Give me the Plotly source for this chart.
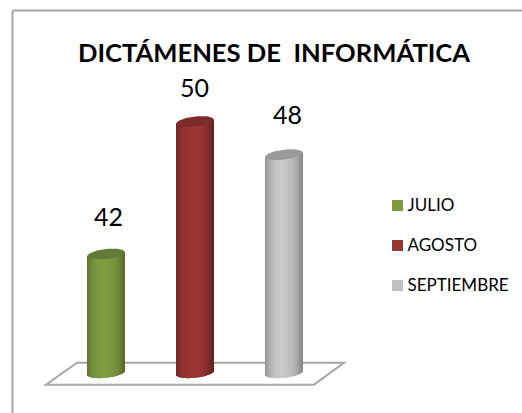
import numpy as np
import plotly.graph_objects as go

months = ["JULIO", "AGOSTO", "SEPTIEMBRE"]
values = [42, 50, 48]
light_colors = [(128, 157, 64), (156, 54, 54), (201, 201, 201)]
dark_colors = [(88, 110, 44), (104, 34, 34), (138, 138, 138)]
cap_colors = ["#637c35", "#7d2a2a", "#9a9a9a"]
swatch_colors = ["#7f9a3e", "#953735", "#bfbfbf"]

W, H = 522, 413
PX_X = 89.0      # px between categories
X0_PX = 106.0    # px of first category
PX_Y = 16.56     # px per value unit
REF_V, REF_PX = 42.0, 254.0
FLOOR_V = 34.83
HALF_W = 18.7    # px
CAP_B = 5.0      # px
TILT = 0.11

x_range = [(0 - X0_PX) / PX_X, (W - X0_PX) / PX_X]
y_range = [REF_V - (H - REF_PX) / PX_Y, REF_V + REF_PX / PX_Y]

fig = go.Figure()
strip_px = np.arange(-HALF_W + 0.5, HALF_W, 1.0)


def shade(t, lo, hi):
    # t in -1..1 across the cylinder
    k = np.clip(1 - (np.abs(t + 0.05) / 1.0) ** 2.6, 0, 1)
    if t > 0:
        k *= 0.93
    c = [lo[j] + (hi[j] - lo[j]) * k for j in range(3)]
    return "rgb(%d,%d,%d)" % tuple(int(v) for v in c)


for i, (name, v) in enumerate(zip(months, values)):
    t = strip_px / HALF_W
    arc = CAP_B * np.sqrt(np.clip(1 - t ** 2, 0, 1))
    skew = TILT * strip_px
    base = FLOOR_V + (skew - arc) / PX_Y
    top = v + skew / PX_Y
    fig.add_trace(go.Bar(
        x=i + strip_px / PX_X, y=top - base, base=base,
        width=[1.35 / PX_X] * len(strip_px),
        marker=dict(color=[shade(a, dark_colors[i], light_colors[i]) for a in t], line_width=0),
        showlegend=False, hoverinfo="skip",
    ))
    th = np.linspace(0, 2 * np.pi, 80)
    ex = HALF_W * np.cos(th)
    ey = CAP_B * np.sin(th) + TILT * ex
    fig.add_trace(go.Scatter(
        x=i + ex / PX_X, y=v + ey / PX_Y, mode="lines", fill="toself",
        fillcolor=cap_colors[i], line=dict(width=0, color=cap_colors[i]),
        showlegend=False, hoverinfo="skip",
    ))

# key: square swatch with its label beside it
key_x = (397.5 - X0_PX) / PX_X
key_text_x = (407.5 - X0_PX) / PX_X
key_rows_px = [205.5, 245.5, 285.5]
for i, name in enumerate(months):
    row = REF_V - (key_rows_px[i] - REF_PX) / PX_Y
    fig.add_trace(go.Scatter(
        x=[key_x], y=[row], name=name, mode="markers",
        marker=dict(symbol="square", size=11, color=swatch_colors[i], line_width=0),
        showlegend=False, hoverinfo="skip",
    ))
    fig.add_trace(go.Scatter(
        x=[key_text_x], y=[row - 1.2 / PX_Y], name=name, mode="text",
        text=[name], textposition="middle right",
        textfont=dict(family="Lato", size=17, color="#000000"),
        showlegend=False, hoverinfo="skip",
    ))

label_shift = [(2, 38), (-1, 35), (3, 41)]
for i, v in enumerate(values):
    fig.add_annotation(
        x=i, y=v, text=str(v), showarrow=False,
        xshift=label_shift[i][0], yshift=label_shift[i][1],
        font=dict(family="Lato", size=25, color="#000000"),
    )

# floor parallelogram
fx = [(46 - X0_PX) / PX_X, (314 - X0_PX) / PX_X, (344 - X0_PX) / PX_X, (77 - X0_PX) / PX_X]
fy = [FLOOR_V - 0.72, FLOOR_V - 0.72, FLOOR_V + 0.60, FLOOR_V + 0.60]
path = "M " + " L ".join(f"{a},{b}" for a, b in zip(fx, fy)) + " Z"
fig.add_shape(type="path", path=path, xref="x", yref="y", layer="below",
              fillcolor="#ffffff", line=dict(color="#a6a6a6", width=2))

# chart frame (left and top edges only)
frame = "#a6a6a6"
fig.add_shape(type="line", xref="paper", yref="paper", x0=12.5 / W, x1=1, y0=1 - 10.5 / H, y1=1 - 10.5 / H,
              line=dict(color=frame, width=2), layer="below")
fig.add_shape(type="line", xref="paper", yref="paper", x0=12.5 / W, x1=12.5 / W, y0=0, y1=1 - 10.5 / H,
              line=dict(color=frame, width=2), layer="below")

fig.update_layout(
    width=W, height=H, margin=dict(l=0, r=0, t=0, b=0),
    autosize=False,
    paper_bgcolor="#ffffff", plot_bgcolor="#ffffff",
    barmode="overlay",
    title=dict(text="<b>DICTÁMENES DE  INFORMÁTICA</b>", x=274 / W, xanchor="center",
               y=1 - 53 / H, yanchor="middle",
               font=dict(family="Lato", size=25.6, color="#000000")),
    xaxis=dict(range=x_range, visible=False, fixedrange=True),
    yaxis=dict(range=y_range, visible=False, fixedrange=True),
    showlegend=False,
)
fig.write_html("out.html", config={"displayModeBar": False},
               post_script="document.body.style.margin='0';")
